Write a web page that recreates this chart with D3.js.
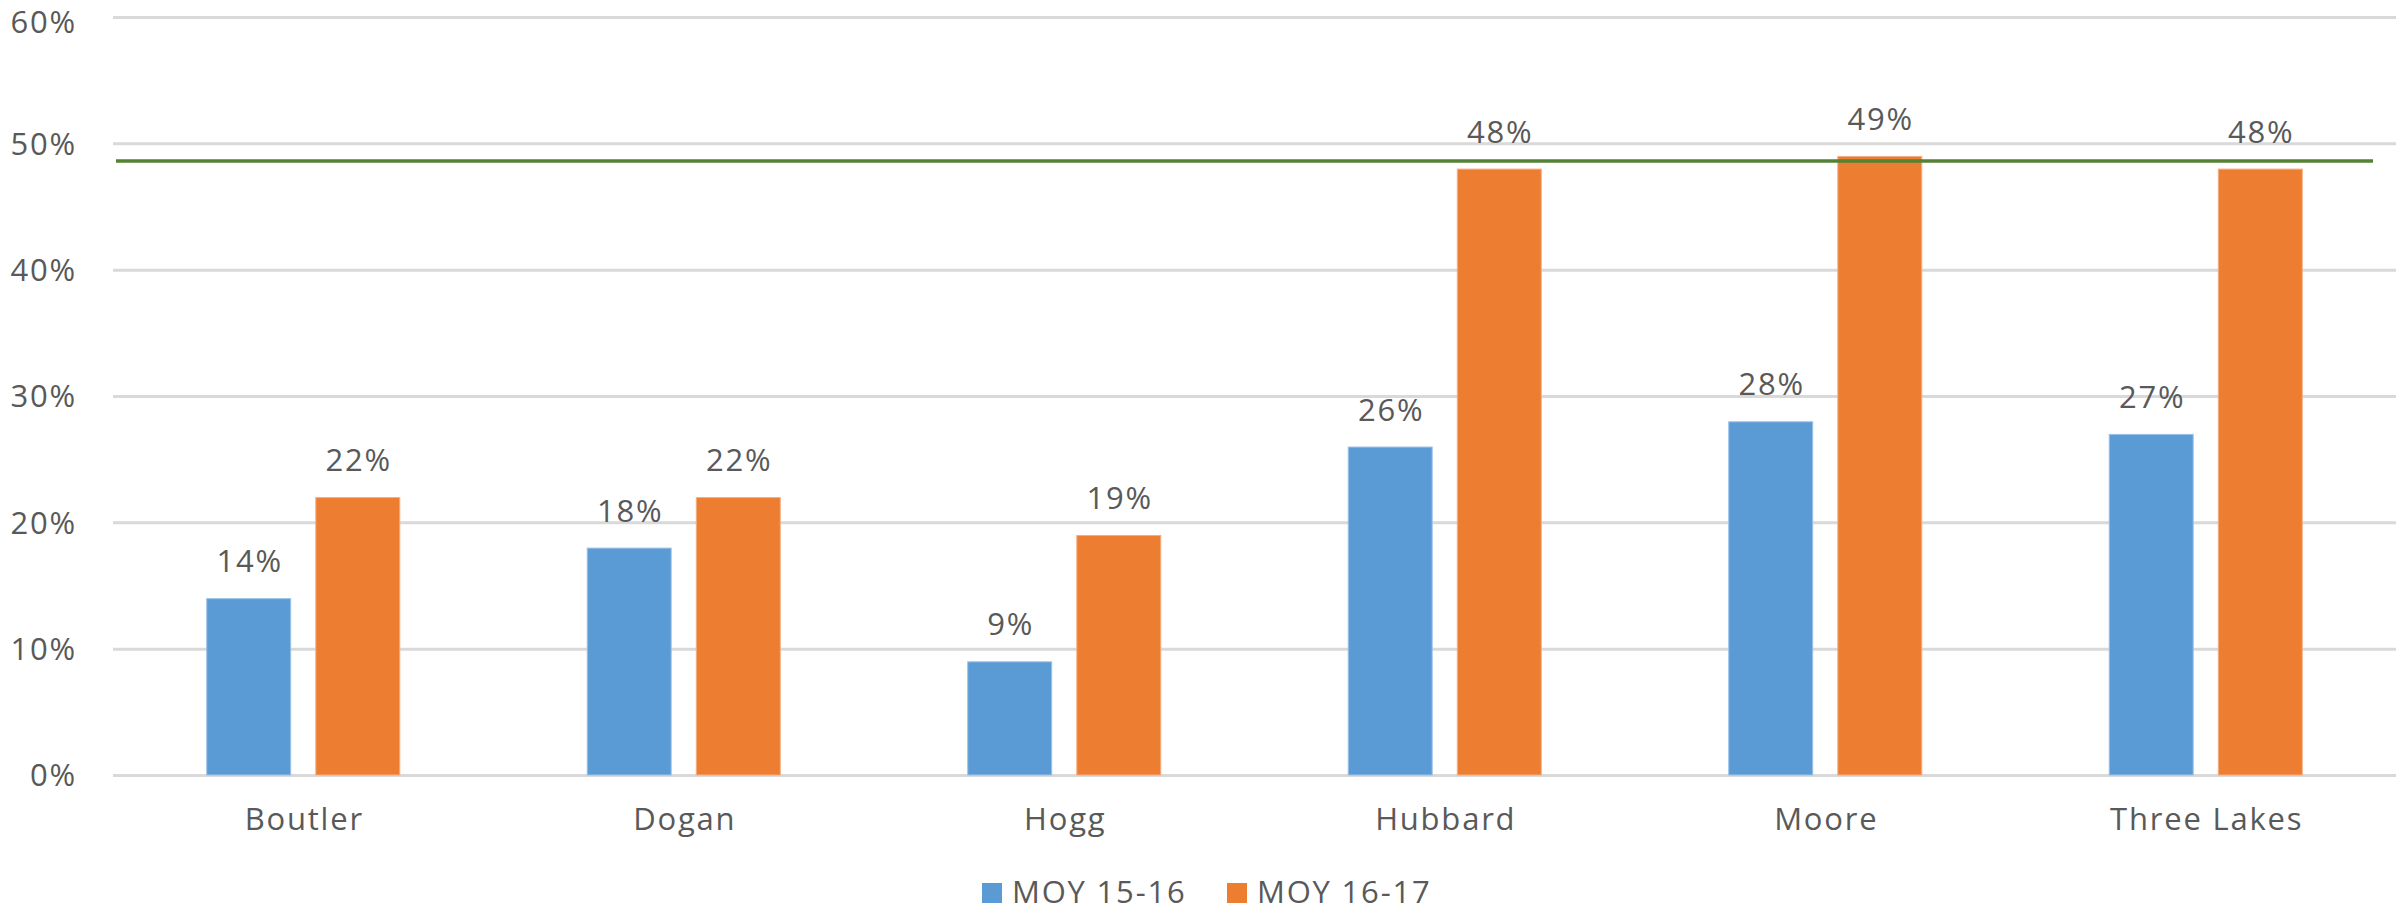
<!DOCTYPE html>
<html>
<head>
<meta charset="utf-8">
<script src="https://cdn.jsdelivr.net/npm/d3@7"></script>
<style>
html,body{margin:0;padding:0;background:#fff;}
svg{display:block;}
text{font-family:"Open Sans",sans-serif;fill:#595959;letter-spacing:1.8px;}
</style>
</head>
<body>
<svg id="chart" width="2399" height="912"></svg>
<script>
const categories = ["Boutler","Dogan","Hogg","Hubbard","Moore","Three Lakes"];
const seriesNames = ["MOY 15-16","MOY 16-17"];
const moy1516 = [0.14,0.18,0.09,0.26,0.28,0.27];
const moy1617 = [0.22,0.22,0.19,0.48,0.49,0.48];
const targetValue = [0.486];
const yTicks = [0,0.1,0.2,0.3,0.4,0.5,0.6];
const colors = ["#5B9BD5","#ED7D31"];
const edgeColors = ["#9CC2E8","#F4AE80"];

(function(){
const plotL = 113, plotR = 2396, plotT = 17, plotB = 775;
const fs = "31px";
const svg = d3.select("#chart");

const y = d3.scaleLinear().domain([0,0.6]).range([plotB, plotT]);
const x0 = d3.scaleBand().domain(categories).range([plotL,plotR]).paddingInner(0.49).paddingOuter(0.245);
const x1 = d3.scaleBand().domain(seriesNames).range([0,x0.bandwidth()]).paddingInner(0.221).paddingOuter(0);

// gridlines
const yAxis = d3.axisLeft(y).tickValues(yTicks).tickSize(-(plotR-plotL)).tickFormat(d3.format(".0%"));
const gy = svg.append("g").attr("transform",`translate(${plotL},0)`).call(yAxis);
gy.select(".domain").remove();
gy.selectAll(".tick line").attr("stroke","#D9D9D9").attr("stroke-width",3);
gy.selectAll(".tick text").attr("x",-36).attr("dy",d=>d===0.6?"0.5em":"0.35em").style("font-size",fs).attr("fill","#595959");

// bars
const data = categories.map((c,i)=>({cat:c, vals:[moy1516[i], moy1617[i]]}));
const groups = svg.append("g").selectAll("g").data(data).join("g")
  .attr("transform",d=>`translate(${x0(d.cat)},0)`);
groups.selectAll("rect").data(d=>d.vals.map((v,j)=>({s:seriesNames[j],v,j}))).join("rect")
  .attr("x",d=>x1(d.s)+0.5).attr("width",x1.bandwidth()-1)
  .attr("y",d=>y(d.v)+0.5).attr("height",d=>y(0)-y(d.v)-0.5)
  .attr("fill",d=>colors[d.j]).attr("stroke",d=>edgeColors[d.j]).attr("stroke-width",1);
groups.selectAll("text.lbl").data(d=>d.vals.map((v,j)=>({s:seriesNames[j],v,j}))).join("text")
  .attr("class","lbl")
  .attr("x",d=>x1(d.s)+x1.bandwidth()/2+1).attr("y",d=>y(d.v)-26)
  .attr("text-anchor","middle").style("font-size",fs)
  .text(d=>d3.format(".0%")(d.v));

// x axis labels
const xAxis = d3.axisBottom(x0).tickSize(0);
const gx = svg.append("g").attr("transform",`translate(0,${plotB})`).call(xAxis);
gx.select(".domain").remove();
gx.selectAll(".tick text").attr("x",1).attr("y",55).attr("dy",0).style("font-size",fs).attr("fill","#595959");

// target line
svg.append("g").selectAll("line").data(targetValue).join("line")
  .attr("x1",116).attr("x2",2373).attr("y1",d=>y(d)).attr("y2",d=>y(d))
  .attr("stroke","#548235").attr("stroke-width",3.5);

// legend
const legendItems = [{name:seriesNames[0],color:colors[0],x:982},{name:seriesNames[1],color:colors[1],x:1227}];
const lg = svg.append("g");
lg.selectAll("rect").data(legendItems).join("rect")
  .attr("x",d=>d.x).attr("y",883).attr("width",20).attr("height",20).attr("fill",d=>d.color);
lg.selectAll("text").data(legendItems).join("text")
  .attr("x",d=>d.x+30).attr("y",903).style("font-size",fs).text(d=>d.name);
})();
</script>
</body>
</html>
